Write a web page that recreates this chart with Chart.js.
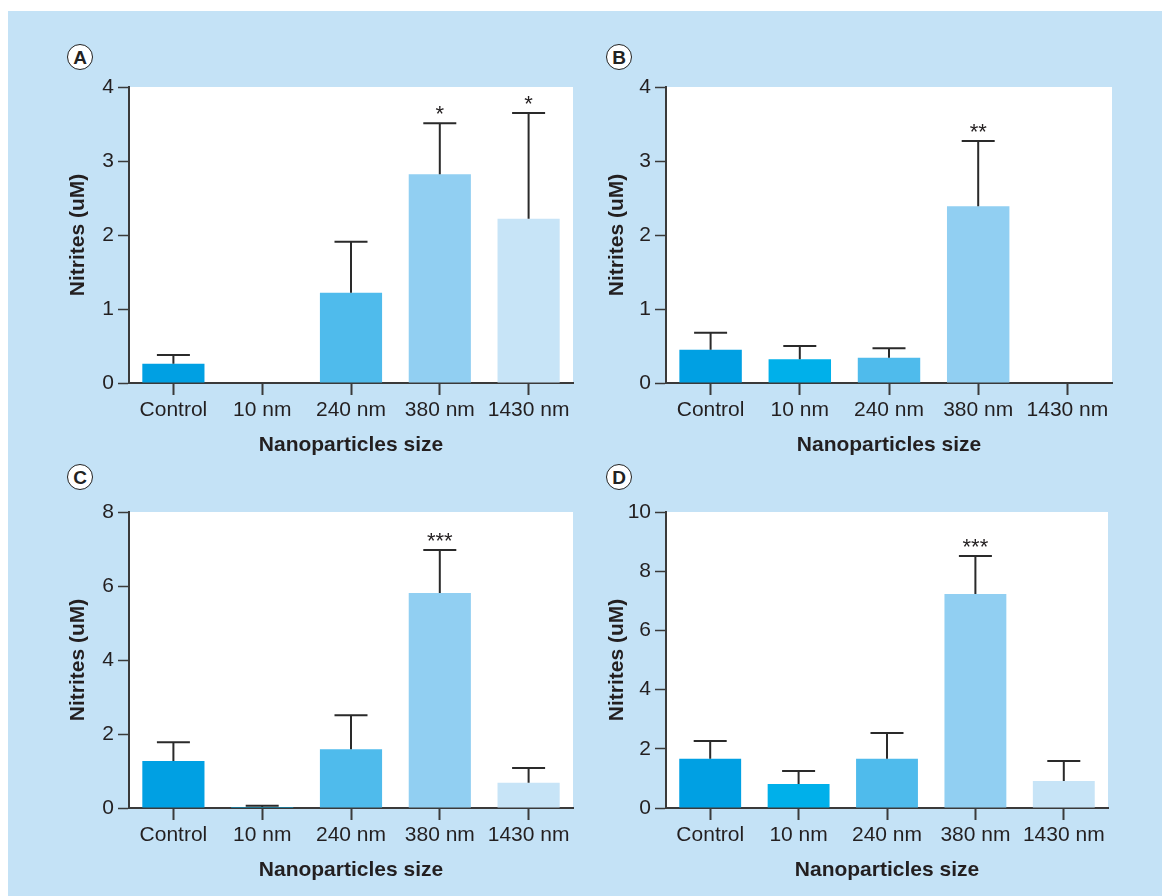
<!DOCTYPE html>
<html>
<head>
<meta charset="utf-8">
<script src="https://cdn.jsdelivr.net/npm/chart.js@4.4.0/dist/chart.umd.min.js"></script>
<style>
    body { margin: 0; background: #ffffff; width: 1162px; height: 896px; overflow: hidden; font-family: "Liberation Sans", Arial, sans-serif; }
    #bg { position: absolute; left: 8px; top: 11px; right: 0; bottom: 0; background: #c4e2f6; }
    canvas { position: absolute; }
    .letter {
        position: absolute; width: 24px; height: 24px; border: 1.5px solid #222;
        border-radius: 50%; background: #fff; color: #222; font-weight: bold;
        font-size: 19px; line-height: 25px; text-align: center;
    }
</style>
</head>
<body>
<div id="bg"></div>
<div class="letter" style="left:67px; top:44px;">A</div>
<div class="letter" style="left:606px; top:44px;">B</div>
<div class="letter" style="left:67px; top:464px;">C</div>
<div class="letter" style="left:606px; top:464px;">D</div>
<canvas id="chart-a" width="520" height="390" style="left:59px; top:70px;"></canvas>
<canvas id="chart-b" width="520" height="390" style="left:596px; top:70px;"></canvas>
<canvas id="chart-c" width="520" height="390" style="left:59px; top:495px;"></canvas>
<canvas id="chart-d" width="520" height="390" style="left:596px; top:495px;"></canvas>
<script>
// Categorias e dados
const categories = ['Control', '10 nm', '240 nm', '380 nm', '1430 nm'];

const valuesA = [0.26, 0, 1.22, 2.82, 2.22];
const errorsA = [0.12, 0, 0.69, 0.69, 1.43];
const starsA = ['', '', '', '*', '*'];

const valuesB = [0.45, 0.32, 0.34, 2.39, 0];
const errorsB = [0.23, 0.18, 0.13, 0.88, 0];
const starsB = ['', '', '', '**', ''];

const valuesC = [1.27, 0.03, 1.59, 5.81, 0.68];
const errorsC = [0.51, 0.03, 0.92, 1.16, 0.40];
const starsC = ['', '', '', '***', ''];

const valuesD = [1.66, 0.81, 1.66, 7.23, 0.91];
const errorsD = [0.60, 0.44, 0.87, 1.28, 0.68];
const starsD = ['', '', '', '***', ''];

const barColors = ['#00a0e3', '#00b0ea', '#4fbbec', '#91cff2', '#c7e4f7'];
const axisColor = '#3a3a3a';
const textColor = '#231f20';

// fundo branco da area do grafico
const plotBackground = {
    id: 'plotBackground',
    beforeDraw(chart) {
        const a = chart.chartArea;
        const ctx = chart.ctx;
        ctx.save();
        ctx.fillStyle = '#ffffff';
        ctx.fillRect(a.left, a.top, a.right - a.left, a.bottom - a.top);
        ctx.restore();
    }
};

// barras de erro + asteriscos
const errorBars = {
    id: 'errorBars',
    afterDatasetsDraw(chart) {
        const ctx = chart.ctx;
        const meta = chart.getDatasetMeta(0);
        const ds = chart.data.datasets[0];
        const y = chart.scales.y;
        ctx.save();
        meta.data.forEach(function (bar, i) {
            const err = ds.errors[i];
            const value = ds.data[i];
            let topY = y.getPixelForValue(value);
            if (err > 0) {
                topY = y.getPixelForValue(value + err);
                ctx.strokeStyle = '#2a2a2a';
                ctx.lineWidth = 2;
                ctx.beginPath();
                ctx.moveTo(bar.x, bar.y);
                ctx.lineTo(bar.x, topY);
                ctx.moveTo(bar.x - 16.5, topY);
                ctx.lineTo(bar.x + 16.5, topY);
                ctx.stroke();
            }
            if (ds.stars[i]) {
                ctx.fillStyle = textColor;
                ctx.font = '22px "Liberation Sans", Arial, sans-serif';
                ctx.textAlign = 'center';
                ctx.textBaseline = 'alphabetic';
                ctx.fillText(ds.stars[i], bar.x, topY - 2);
            }
        });
        ctx.restore();
    }
};

function makeChart(canvasId, values, errors, stars, maxY, step, pad) {
    return new Chart(document.getElementById(canvasId), {
        type: 'bar',
        data: {
            labels: categories,
            datasets: [{
                data: values,
                errors: errors,
                stars: stars,
                backgroundColor: barColors,
                borderWidth: 0,
                barPercentage: 0.7,
                categoryPercentage: 1.0
            }]
        },
        options: {
            responsive: false,
            animation: false,
            devicePixelRatio: 1,
            layout: { padding: { top: 17, right: pad.right, left: 0, bottom: 0 } },
            plugins: {
                legend: { display: false },
                tooltip: { enabled: false }
            },
            scales: {
                x: {
                    afterFit(scale) { scale.height = 77; },
                    grid: {
                        offset: false,
                        drawOnChartArea: false,
                        tickLength: 12,
                        tickColor: axisColor,
                        tickWidth: 2
                    },
                    border: { display: true, color: axisColor, width: 2 },
                    ticks: {
                        color: textColor,
                        padding: 3,
                        maxRotation: 0,
                        font: { family: '"Liberation Sans", Arial, sans-serif', size: 21 }
                    },
                    title: {
                        display: true,
                        text: 'Nanoparticles size',
                        color: textColor,
                        padding: { top: 0, bottom: 2 },
                        font: { family: '"Liberation Sans", Arial, sans-serif', size: 21, weight: 'bold' }
                    }
                },
                y: {
                    min: 0,
                    max: maxY,
                    afterFit(scale) { scale.width = 70; },
                    grid: {
                        drawOnChartArea: false,
                        tickLength: 11,
                        tickColor: axisColor,
                        tickWidth: 1.5
                    },
                    border: { display: true, color: axisColor, width: 2 },
                    ticks: {
                        stepSize: step,
                        color: textColor,
                        padding: 4,
                        font: { family: '"Liberation Sans", Arial, sans-serif', size: 21 }
                    },
                    title: {
                        display: true,
                        text: 'Nitrites (uM)',
                        color: textColor,
                        padding: { top: pad.title, bottom: 0 },
                        font: { family: '"Liberation Sans", Arial, sans-serif', size: 21, weight: 'bold' }
                    }
                }
            }
        },
        plugins: [plotBackground, errorBars]
    });
}

var charts = {};
charts.a = makeChart('chart-a', valuesA, errorsA, starsA, 4, 1, { right: 6, title: 7 });
charts.b = makeChart('chart-b', valuesB, errorsB, starsB, 4, 1, { right: 4, title: 9 });
charts.c = makeChart('chart-c', valuesC, errorsC, starsC, 8, 2, { right: 6, title: 7 });
charts.d = makeChart('chart-d', valuesD, errorsD, starsD, 10, 2, { right: 8, title: 9 });
</script>
</body>
</html>
